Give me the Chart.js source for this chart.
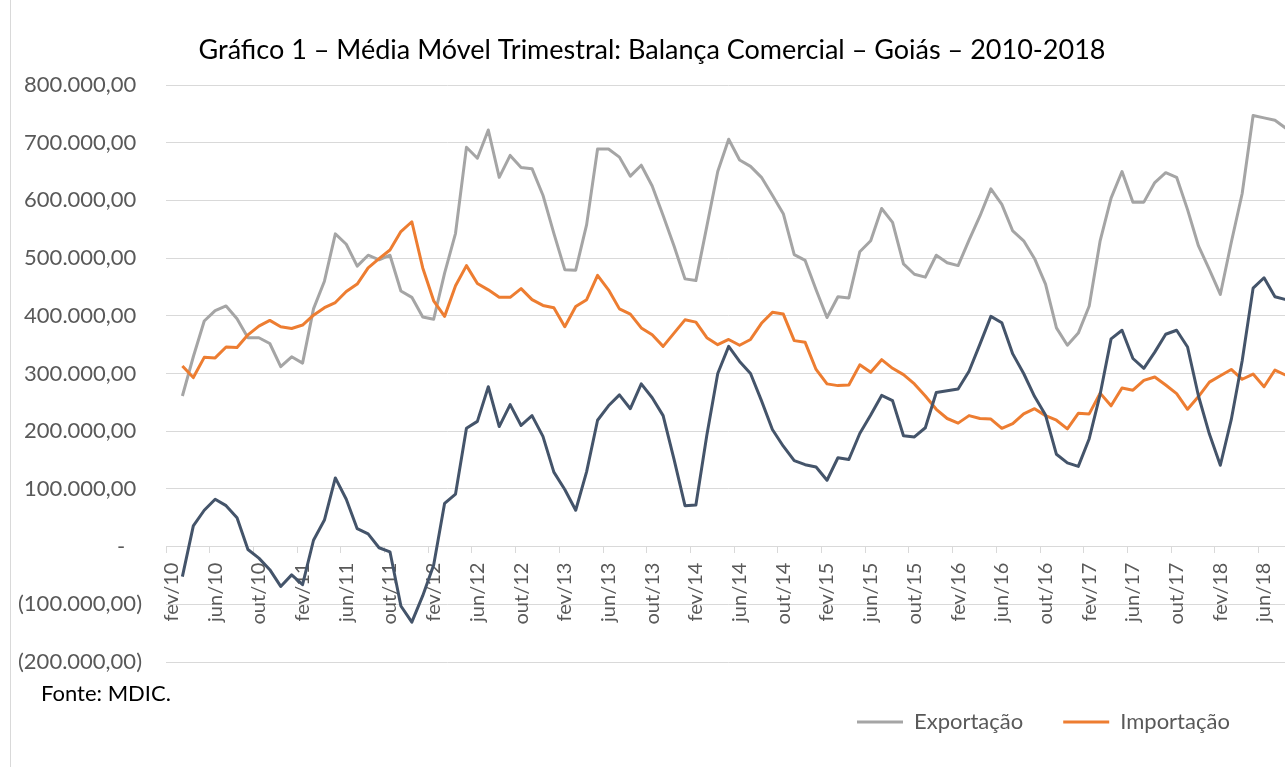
<!DOCTYPE html>
<html lang="pt-BR">
<head>
<meta charset="utf-8">
<title>Balança Comercial – Goiás</title>
<script src="https://cdn.jsdelivr.net/npm/chart.js@4.4.1/dist/chart.umd.min.js"></script>
<style>
  html, body { margin: 0; padding: 0; background: #fff; overflow: hidden; }
  #moldura { position: absolute; left: 10px; top: 0; width: 1px; height: 767px; background: #d9d9d9; }
  #grafico { position: absolute; left: 0; top: 0; }
  #fonte { position: absolute; left: 41px; top: 680px; font: 22px Lato, sans-serif; line-height: 26px; color: #000; }
</style>
</head>
<body>
<div id="moldura"></div>
<canvas id="grafico" width="1320" height="734"></canvas>
<div id="fonte">Fonte: MDIC.</div>
<script>
var titulo = "Gráfico 1 – Média Móvel Trimestral: Balança Comercial – Goiás – 2010-2018";

var meses = ["jan", "fev", "mar", "abr", "mai", "jun", "jul", "ago", "set", "out", "nov", "dez"];
var anos = ["10", "11", "12", "13", "14", "15", "16", "17", "18"];

// fev/10 ... ago/18
var categorias = [];
anos.forEach(function(a) {
  meses.forEach(function(m) { categorias.push(m + "/" + a); });
});
categorias = categorias.slice(1, 104);

var exportacao = [null,
  261000, 329000, 391000, 409000, 417000, 395000, 362000, 362000, 352000, 312000,
  329000, 318000, 412000, 460000, 542000, 524000, 486000, 505000, 497000, 505000,
  443000, 432000, 398000, 394000, 474000, 543000, 692000, 673000, 722000, 640000,
  678000, 657000, 655000, 609000, 543000, 480000, 479000, 558000, 689000, 689000,
  675000, 642000, 661000, 625000, 574000, 521000, 464000, 461000, 555000, 650000,
  706000, 670000, 659000, 640000, 609000, 577000, 506000, 496000, 445000, 397000,
  433000, 431000, 511000, 530000, 586000, 562000, 490000, 472000, 467000, 505000,
  492000, 487000, 531000, 573000, 620000, 593000, 547000, 530000, 499000, 455000,
  379000, 349000, 370000, 417000, 530000, 604000, 650000, 597000, 597000, 631000,
  648000, 640000, 584000, 521000, 480000, 437000, 527000, 612000, 747000, 743000,
  739000, 725000
];

var importacao = [null,
  313000, 293000, 328000, 327000, 346000, 345000, 367000, 382000, 392000, 381000,
  378000, 384000, 401000, 414000, 423000, 442000, 455000, 483000, 499000, 514000,
  546000, 563000, 483000, 426000, 399000, 452000, 487000, 456000, 445000, 432000,
  432000, 447000, 428000, 418000, 414000, 381000, 416000, 428000, 470000, 445000,
  412000, 403000, 379000, 367000, 347000, 370000, 393000, 389000, 362000, 350000,
  359000, 349000, 359000, 387000, 406000, 403000, 357000, 354000, 307000, 282000,
  279000, 280000, 315000, 302000, 324000, 309000, 298000, 282000, 261000, 238000,
  222000, 214000, 227000, 222000, 221000, 205000, 213000, 230000, 239000, 227000,
  219000, 204000, 231000, 230000, 266000, 244000, 275000, 271000, 288000, 294000,
  280000, 265000, 238000, 260000, 285000, 296000, 307000, 290000, 299000, 277000,
  306000, 297000
];

var saldo = [null,
  -52000, 36000, 63000, 82000, 71000, 50000, -5000, -20000, -40000, -69000,
  -49000, -66000, 11000, 46000, 119000, 82000, 31000, 22000, -2000, -9000,
  -103000, -131000, -85000, -32000, 75000, 91000, 205000, 217000, 277000, 208000,
  246000, 210000, 227000, 191000, 129000, 99000, 63000, 130000, 219000, 244000,
  263000, 239000, 282000, 258000, 227000, 151000, 71000, 72000, 193000, 300000,
  347000, 321000, 300000, 253000, 203000, 174000, 149000, 142000, 138000, 115000,
  154000, 151000, 196000, 228000, 262000, 253000, 192000, 190000, 206000, 267000,
  270000, 273000, 304000, 351000, 399000, 388000, 334000, 300000, 260000, 228000,
  160000, 145000, 139000, 187000, 264000, 360000, 375000, 326000, 309000, 337000,
  368000, 375000, 346000, 261000, 195000, 141000, 220000, 322000, 448000, 466000,
  433000, 428000
];

// formato contábil: 800.000,00 / (100.000,00) / -
function formatar(v) {
  if (v === 0) return "-   ";
  var s = Math.abs(v).toFixed(0).replace(/\B(?=(\d{3})+(?!\d))/g, ".") + ",00";
  return v < 0 ? "(" + s + ")" : s + " ";
}

// legenda fica no canto inferior direito, como no original
var posicaoLegenda = {
  id: "posicaoLegenda",
  beforeDraw: function(chart) {
    chart.legend.left = 817;
    chart.legend.top = 671;
  }
};

Chart.defaults.font.family = "Lato, sans-serif";

var serie = function(label, cor, valores, ordem) {
  return {
    label: label,
    data: valores,
    borderColor: cor,
    backgroundColor: cor,
    borderWidth: 3,
    pointRadius: 0,
    pointBorderWidth: 3,
    borderJoinStyle: "round",
    tension: 0,
    order: ordem
  };
};

new Chart(document.getElementById("grafico").getContext("2d"), {
  type: "line",
  data: {
    labels: categorias,
    datasets: [
      serie("Exportação", "#a5a5a5", exportacao, 3),
      serie("Importação", "#ed7d31", importacao, 2),
      serie("Saldo", "#44546a", saldo, 1)
    ]
  },
  options: {
    responsive: false,
    animation: false,
    layout: { padding: { left: 8, right: 24, top: 0, bottom: 0 } },
    plugins: {
      tooltip: { enabled: false },
      title: {
        display: true,
        text: titulo,
        color: "#000",
        font: { size: 27, weight: "normal" },
        padding: { top: 34, bottom: 18.6 }
      },
      legend: {
        position: "bottom",
        align: "start",
        reverse: true,
        labels: {
          color: "#595959",
          font: { size: 22 },
          usePointStyle: true,
          pointStyle: "line",
          pointStyleWidth: 46,
          padding: 40,
          filter: function(item) { return item.text !== "Saldo"; }
        }
      }
    },
    scales: {
      x: {
        position: { y: 0 },
        offset: true,
        grid: {
          offset: true,
          drawOnChartArea: false,
          drawTicks: true,
          tickLength: 6,
          tickColor: function(ctx) { return ctx.index % 4 === 0 ? "#d9d9d9" : "rgba(0,0,0,0)"; }
        },
        border: { color: "#d9d9d9" },
        ticks: {
          autoSkip: false,
          minRotation: 90,
          maxRotation: 90,
          padding: 10,
          color: "#595959",
          font: { size: 20 },
          callback: function(v, i) { return i % 4 === 0 ? categorias[i] : ""; }
        }
      },
      y: {
        min: -200000,
        max: 800000,
        grid: { color: "#d9d9d9", drawTicks: false },
        border: { display: false },
        ticks: {
          stepSize: 100000,
          padding: 24,
          color: "#595959",
          font: { size: 22 },
          callback: formatar
        },
        afterFit: function(s) { s.width = 158; }
      }
    }
  },
  plugins: [posicaoLegenda]
});
</script>
</body>
</html>
